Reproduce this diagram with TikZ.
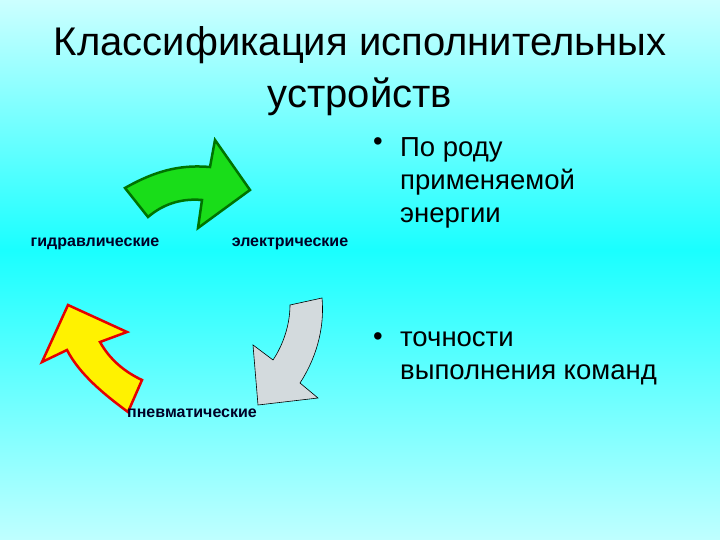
\documentclass[tikz,border=0pt]{standalone}
\usepackage{fontspec}
\setmainfont{Liberation Sans}
\begin{document}
\begin{tikzpicture}[x=1pt,y=-1pt,
  lbl/.style={font=\bfseries\fontsize{16}{18}\selectfont,text=black!85!blue,inner sep=0pt},
  big/.style={font=\fontsize{27.5}{33}\selectfont,align=left,inner sep=0pt,anchor=north west}]
\useasboundingbox (0,0) rectangle (720,540);
\shade[top color=white!80!cyan, bottom color=cyan!90!white] (0,0) rectangle (720,250);
\shade[top color=cyan!90!white, bottom color=white!75!cyan] (0,250) rectangle (720,540);
\node[font=\fontsize{40}{52}\selectfont,align=center] (title) at (360,71) {Классификация исполнительных\\устройств};
% green
\draw[green!45!black,line width=2.5pt,fill=green!85!black!90,line join=miter]
 (125,188) .. controls (160,168) and (185,165) .. (210,167) -- (215,140) -- (250,190) -- (198,228) -- (202,200)
 .. controls (180,198) and (162,205) .. (148,217) -- cycle;
% yellow
\draw[red!90!black,line width=2.5pt,fill=yellow,line join=miter]
 (128,412) .. controls (105,395) and (80,375) .. (67,350) -- (42,362) -- (68,305) -- (127,332) -- (100,342)
 .. controls (110,360) and (125,372) .. (142,380) -- cycle;
% grey
\draw[black,line width=0.6pt,fill=cyan!15!gray!35]
 (290,305) -- (322,298) .. controls (325,330) and (315,360) .. (300,383) -- (318,398) -- (258,405) -- (253,345) -- (273,360)
 .. controls (283,345) and (290,325) .. (290,305) -- cycle;
\node[lbl] (g) at (95,244) {гидравлические};
\node[lbl] (e) at (290,244) {электрические};
\node[lbl] (p) at (192,413) {пневматические};
\node[big] (b1) at (373,137) {•};
\node[big] (t1) at (400,137) {По роду\\применяемой\\энергии};
\node[big] (b2) at (373,332) {•};
\node[big] (t2) at (400,332) {точности\\выполнения команд};
\end{tikzpicture}
\end{document}
